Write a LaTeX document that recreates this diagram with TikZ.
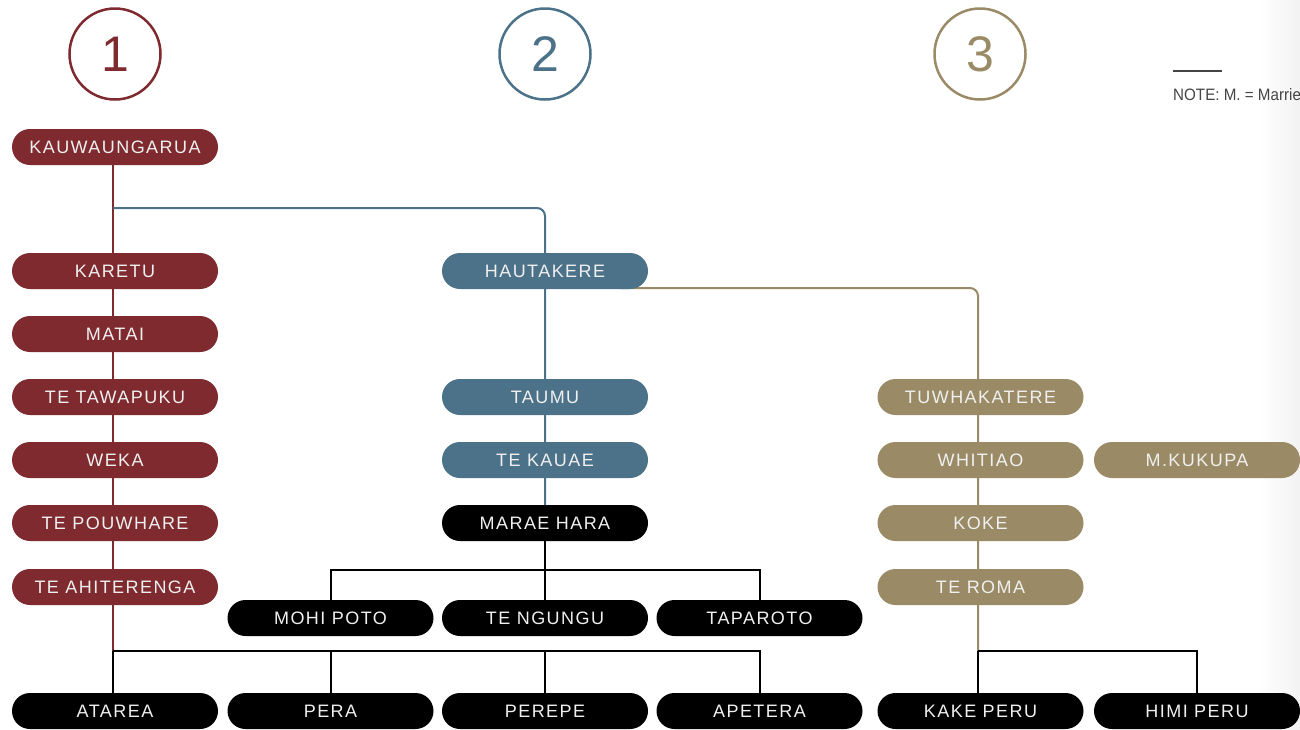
\documentclass[tikz,border=0pt]{standalone}
\usepackage{fontspec}
\setmainfont{Liberation Sans}
\newfontfamily\nodefont[LetterSpace=8]{Liberation Sans}
\newfontfamily\notefont[FakeStretch=0.92]{Liberation Sans}
\usetikzlibrary{backgrounds,calc}
\definecolor{cred}{HTML}{7E2A2F}
\definecolor{cblue}{HTML}{4C7289}
\definecolor{ctan}{HTML}{9A8B66}
\definecolor{ctext}{HTML}{F0F0F0}
\definecolor{cnote}{HTML}{444444}
\begin{document}
\begin{tikzpicture}[x=1pt,y=-1pt,
  pill/.style={rectangle, rounded corners=18pt, minimum width=206pt, minimum height=36pt,
    inner sep=0pt, text=ctext, font=\nodefont\fontsize{18}{20}\selectfont},
  rednode/.style={pill, fill=cred},
  bluenode/.style={pill, fill=cblue},
  tannode/.style={pill, fill=ctan},
  blacknode/.style={pill, fill=black},
  numcircle/.style={circle, draw, line width=2.5pt, minimum size=91pt, inner sep=0pt,
    font=\fontsize{50}{56}\selectfont},
  link/.style={line width=2pt},
  bus/.style={link, rounded corners=8pt}
]
\useasboundingbox (0,0) rectangle (1300,729);
\clip (0,0) rectangle (1300,729);

% circles
\node[numcircle, draw=cred, text=cred] (n1) at (115,54) {1};
\node[numcircle, draw=cblue, text=cblue] (n2) at (545,54) {2};
\node[numcircle, draw=ctan, text=ctan] (n3) at (980,54) {3};

% note
\coordinate (noteA) at (1173,71);
\coordinate (noteB) at (1222,71);
\draw[line width=1.5pt, cnote] (noteA) -- (noteB);
\node[anchor=west, inner sep=0pt, text=cnote, font=\notefont\fontsize{16.5}{18}\selectfont] (note) at (1173,95) {NOTE: M. = Married};

% column 1
\node[rednode] (kau) at (115,147) {KAUWAUNGARUA};
\node[rednode] (karetu) at (115,271) {KARETU};
\node[rednode] (matai) at (115,334) {MATAI};
\node[rednode] (tawa) at (115,397) {TE TAWAPUKU};
\node[rednode] (weka) at (115,460) {WEKA};
\node[rednode] (pouw) at (115,523) {TE POUWHARE};
\node[rednode] (ahit) at (115,587) {TE AHITERENGA};

% column 2
\node[bluenode] (haut) at (545,271) {HAUTAKERE};
\node[bluenode] (taumu) at (545,397) {TAUMU};
\node[bluenode] (kauae) at (545,460) {TE KAUAE};
\node[blacknode] (marae) at (545,523) {MARAE HARA};
\node[blacknode] (mohi) at (330.5,618) {MOHI POTO};
\node[blacknode] (ngungu) at (545,618) {TE NGUNGU};
\node[blacknode] (tapa) at (759.5,618) {TAPAROTO};

% column 3
\node[tannode] (tuwh) at (980.5,397) {TUWHAKATERE};
\node[tannode] (whit) at (980.5,460) {WHITIAO};
\node[tannode] (kukupa) at (1197,460) {M.KUKUPA};
\node[tannode] (koke) at (980.5,523) {KOKE};
\node[tannode] (teroma) at (980.5,587) {TE ROMA};

% bottom row
\node[blacknode] (atarea) at (115,711) {ATAREA};
\node[blacknode] (pera) at (330.5,711) {PERA};
\node[blacknode] (perepe) at (545,711) {PEREPE};
\node[blacknode] (apetera) at (759.5,711) {APETERA};
\node[blacknode] (kake) at (980.5,711) {KAKE PERU};
\node[blacknode] (himi) at (1197,711) {HIMI PERU};

% junction coordinates
\coordinate (busA) at (113,208);
\coordinate (busB) at (113,651);
\coordinate (busC) at (978,651);
\coordinate (busD) at (545,570);
\coordinate (tanA) at (620,288);

\begin{pgfonlayer}{background}
  \shade[left color=white, right color=black!5] (1258,0) rectangle (1300,729);
  % red line
  \draw[link, cred] (kau.center -| busA) -- (busB);
  % blue line
  \draw[bus, cblue] (busA) -- (busA -| haut.center) -- (marae.center);
  % tan line
  \draw[bus, ctan] (tanA) -- (tanA -| busC) -- (busC);
  % marae hara children
  \draw[link] (marae.center) -- (busD);
  \draw[link] (mohi.north) -- (mohi.north |- busD) -- (tapa.north |- busD) -- (tapa.north);
  \draw[link] (busD) -- (ngungu.north);
  % bottom bus
  \draw[link] (busB) -- (atarea.north -| busB);
  \draw[link] (busB) -- (busB -| apetera.north) -- (apetera.north);
  \draw[link] (busB -| pera.north) -- (pera.north);
  \draw[link] (busB -| perepe.north) -- (perepe.north);
  % right bus
  \draw[link] (busC) -- (kake.north -| busC);
  \draw[link] (busC) -- (busC -| himi.north) -- (himi.north);
\end{pgfonlayer}
\end{tikzpicture}
\end{document}
